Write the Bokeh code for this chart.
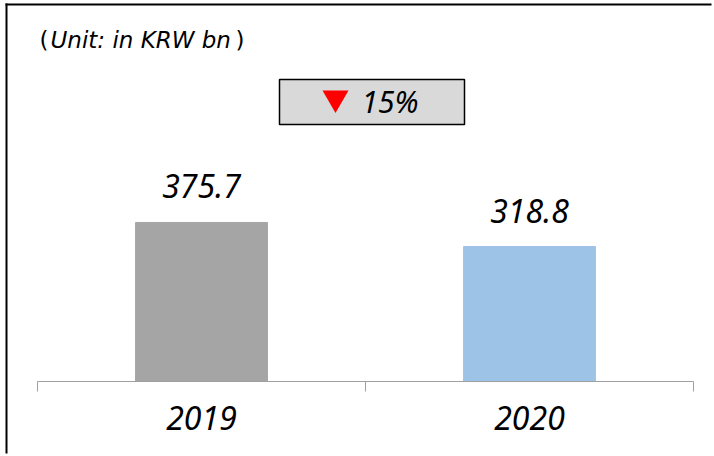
from bokeh.plotting import figure
from bokeh.models import Range1d, FixedTicker, Label, BoxAnnotation, ColumnDataSource
from bokeh.embed import file_html
from bokeh.resources import INLINE

categories = ["2019", "2020"]
values = [375.7, 318.8]
bar_colors = ["#a5a5a5", "#9dc3e6"]
change_text = "15%"
unit_text = "Unit: in KRW bn"

W, H = 714, 456
AX_L, AX_R, BASE = 37, 693, 381   # axis extent / baseline in canvas pixels
YMAX = 900.0
PXU = (AX_R - AX_L) / 2.0          # pixels per x unit
PYU = BASE / YMAX                  # pixels per y unit
BL = 11                            # baseline correction

def px2x(px):
    return (px - AX_L) / PXU

def py2y(py):
    return (BASE - py) / PYU

p = figure(width=W, height=H, output_backend="svg", toolbar_location=None,
           x_range=Range1d(px2x(0), px2x(W)), y_range=Range1d(py2y(H), py2y(0)),
           y_axis_type=None, min_border=0)
p.outline_line_color = None
p.xgrid.visible = False
p.ygrid.visible = False
p.background_fill_color = "white"
p.border_fill_color = "white"

# outer border (only top and left edges are visible in the picture)
p.segment(x0=[px2x(6), px2x(5)], y0=[py2y(3), py2y(4)],
          x1=[px2x(6), px2x(W - 3)], y1=[py2y(H - 3), py2y(4)],
          line_color="black", line_width=2)

xs = [i + 0.5 for i in range(len(categories))]
src = ColumnDataSource(dict(x=xs, top=values, color=bar_colors,
                            label=[f"{v:.1f}" for v in values]))
p.vbar(x="x", top="top", bottom=0, width=0.402, color="color", source=src)

NUMFONT = "Noto Sans"
p.text(x="x", y="top", text="label", source=src, text_align="center",
       text_baseline="alphabetic", y_offset=-25 - BL, text_font_size="32px",
       text_font_style="italic", text_color="black",
       text_font={"value": NUMFONT})

ax = p.xaxis[0]
ax.fixed_location = 0
ax.bounds = (0, 2)
ax.ticker = FixedTicker(ticks=xs, minor_ticks=[0, 1, 2])
ax.major_label_overrides = {x: c for x, c in zip(xs, categories)}
ax.major_tick_line_color = None
ax.major_tick_out = 0
ax.major_tick_in = 0
ax.minor_tick_out = 10
ax.minor_tick_in = 0
ax.minor_tick_line_color = "#a0a0a0"
ax.axis_line_color = "#a0a0a0"
ax.major_label_standoff = 14
ax.major_label_text_font = NUMFONT
ax.major_label_text_font_size = "32px"
ax.major_label_text_font_style = "italic"
ax.major_label_text_color = "black"

# change box
p.add_layout(BoxAnnotation(left=px2x(279), right=px2x(464), top=py2y(79),
                           bottom=py2y(124), fill_color="#d9d9d9", fill_alpha=1,
                           line_color="black", line_alpha=1, line_width=1.5))
tri = p.scatter(x=[px2x(335)], y=[py2y(97.5)], marker="inverted_triangle",
                size=26, color="red", line_color=None)
tri.level = "overlay"
p.add_layout(Label(x=px2x(361), y=py2y(112 - BL), text=change_text,
                   text_font=NUMFONT, text_font_size="30px", text_color="black",
                   text_font_style="italic", text_baseline="alphabetic"))

# unit caption
CAPFONT = "DejaVu Sans"
p.add_layout(Label(x=px2x(39), y=py2y(50 - BL), text="(", text_font=CAPFONT,
                   text_font_size="23px", text_color="black",
                   text_baseline="alphabetic"))
p.add_layout(Label(x=px2x(50), y=py2y(50 - BL), text=unit_text, text_font=CAPFONT,
                   text_font_size="23px", text_font_style="italic",
                   text_color="black", text_baseline="alphabetic"))
p.add_layout(Label(x=px2x(244), y=py2y(50 - BL), text=")", text_font=CAPFONT,
                   text_font_size="23px", text_align="right", text_color="black",
                   text_baseline="alphabetic"))

open("out.html", "w").write(file_html(p, INLINE))
